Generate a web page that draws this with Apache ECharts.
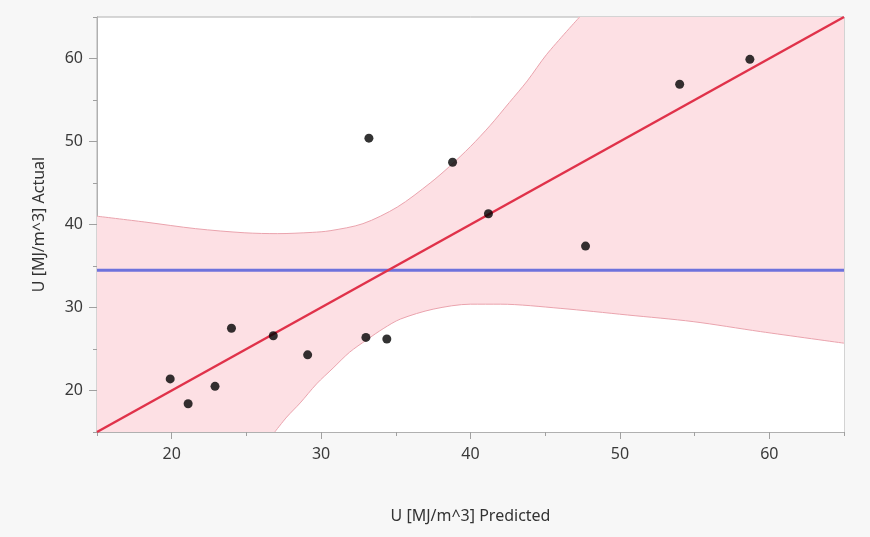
<!DOCTYPE html>
<html>
<head>
<meta charset="utf-8">
<script src="https://cdn.jsdelivr.net/npm/echarts@6/dist/echarts.min.js"></script>
<style>
html,body{margin:0;padding:0;background:#f7f7f7;}
#c{width:870px;height:537px;}
</style>
</head>
<body>
<div id="c"></div>
<script>
// Observed points: predicted (x) vs actual (y)
var predicted = [19.9, 21.1, 22.9, 24.0, 26.8, 29.1, 33.0, 33.2, 34.4, 38.8, 41.2, 47.7, 54.0, 58.7];
var actual    = [21.4, 18.4, 20.5, 27.5, 26.6, 24.3, 26.4, 50.4, 26.2, 47.5, 41.3, 37.4, 56.9, 59.9];

// Fit line (actual = predicted) and mean line
var fitX = [15, 65];
var fitY = [15, 65];
var meanY = 34.5;

// Upper confidence curve, leaves the plot at the top
var upperX = [15, 18.2, 21.6, 24.9, 27.1, 29.4, 30.6, 32.8, 35.1, 37.3, 38.6, 40.0, 41.3, 42.6, 43.8, 45.1, 47.3];
var upperY = [41.0, 40.3, 39.5, 39.0, 38.9, 39.05, 39.25, 40.1, 42.1, 45.0, 47.0, 49.4, 51.9, 54.7, 57.3, 60.5, 65];
// band continues along the top edge to the right
var topX = [47.2, 65];
var topY = [65, 65];

// Lower confidence curve
var lowerX = [26.9, 27.7, 28.6, 29.7, 30.8, 31.9, 33.05, 34.2, 35.3, 37.5, 40.0, 42.0, 46.0, 50.5, 54.9, 59.4, 65];
var lowerY = [15, 16.8, 18.5, 20.8, 22.7, 24.6, 26.1, 27.5, 28.6, 29.8, 30.4, 30.4, 29.9, 29.1, 28.3, 27.1, 25.7];

// Axis ticks
var xMajor = [20, 30, 40, 50, 60];
var xMinor = [15, 25, 35, 45, 55, 65];
var yMajor = [20, 30, 40, 50, 60];
var yMinor = [15, 25, 35, 45, 55, 65];

var xName = 'U [MJ/m^3] Predicted';
var yName = 'U [MJ/m^3] Actual';

function zip(a, b) { return a.map(function (v, i) { return [v, b[i]]; }); }

var FONT = 'Noto Sans';
var chart = echarts.init(document.getElementById('c'));
var baseAxis = {
  type: 'value', min: 15, max: 65,
  splitLine: { show: false },
  axisLine: { show: true, lineStyle: { color: '#b0b0b0', width: 1 } }
};
var bandFill = '#fde0e4';
var bandEdge = '#eaa3ad';
chart.setOption({
  animation: false,
  backgroundColor: '#f7f7f7',
  grid: { left: 97, right: 26, top: 17, bottom: 105, show: true, backgroundColor: '#ffffff', borderColor: '#b0b0b0', borderWidth: 1 },
  xAxis: [
    Object.assign({}, baseAxis, {
      name: xName, nameLocation: 'middle', nameGap: 76,
      nameTextStyle: { fontFamily: FONT, fontSize: 16, color: '#333' },
      axisTick: { show: true, length: 7, customValues: xMajor, lineStyle: { color: '#a0a0a0' } },
      axisLabel: { customValues: xMajor, fontFamily: FONT, fontSize: 16, color: '#3a3a3a', margin: 14 }
    }),
    Object.assign({}, baseAxis, {
      position: 'bottom',
      axisTick: { show: true, length: 4, customValues: xMinor, lineStyle: { color: '#a0a0a0' } },
      axisLabel: { show: false }
    })
  ],
  yAxis: [
    Object.assign({}, baseAxis, {
      name: yName, nameLocation: 'middle', nameGap: 50,
      nameTextStyle: { fontFamily: FONT, fontSize: 16, color: '#333' },
      axisTick: { show: true, length: 8, customValues: yMajor, lineStyle: { color: '#a0a0a0' } },
      axisLabel: { customValues: yMajor, fontFamily: FONT, fontSize: 16, color: '#3a3a3a', margin: 14 }
    }),
    Object.assign({}, baseAxis, {
      position: 'left',
      axisTick: { show: true, length: 4, customValues: yMinor, lineStyle: { color: '#a0a0a0' } },
      axisLabel: { show: false }
    })
  ],
  series: [
    { type: 'line', data: zip(upperX, upperY), smooth: 0.3, symbol: 'none', clip: true, z: 1,
      lineStyle: { color: bandEdge, width: 1 }, areaStyle: { color: bandFill, opacity: 1, origin: 'start' } },
    { type: 'line', data: zip(topX, topY), symbol: 'none', clip: true, z: 1,
      lineStyle: { width: 0, opacity: 0 }, areaStyle: { color: bandFill, opacity: 1, origin: 'start' } },
    { type: 'line', data: zip(lowerX, lowerY), smooth: 0.3, symbol: 'none', clip: true, z: 2,
      lineStyle: { color: bandEdge, width: 1 }, areaStyle: { color: '#ffffff', opacity: 1, origin: 'start' } },
    { type: 'line', data: [[15, meanY], [65, meanY]], symbol: 'none', z: 3,
      lineStyle: { color: '#6e72dc', width: 3 } },
    { type: 'line', data: zip(fitX, fitY), symbol: 'none', z: 4,
      lineStyle: { color: '#e0324a', width: 2.5 } },
    { type: 'scatter', data: zip(predicted, actual), symbolSize: 9, z: 5,
      itemStyle: { color: '#000000' } }
  ]
});
</script>
</body>
</html>
